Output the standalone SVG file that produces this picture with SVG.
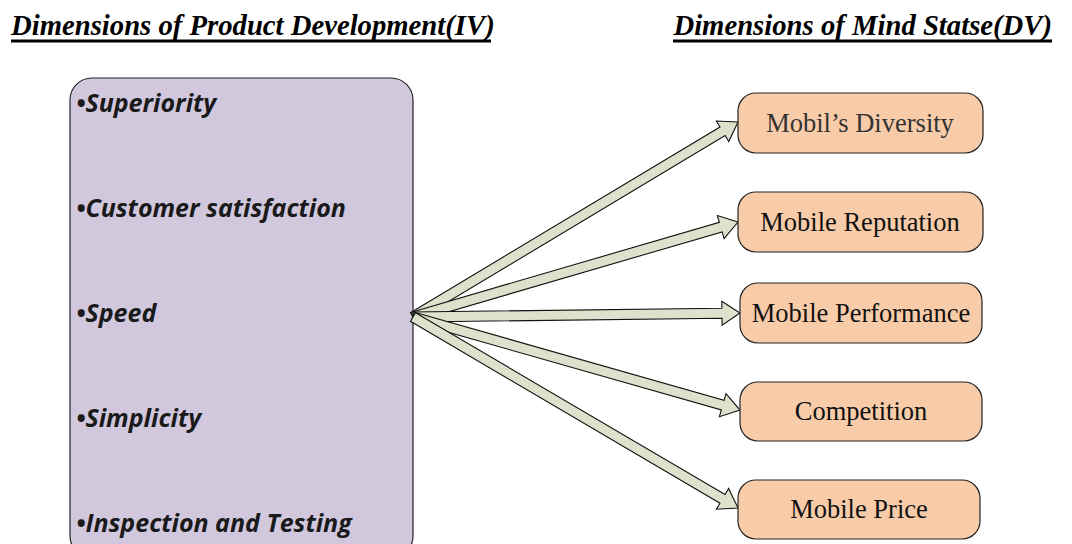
<svg xmlns="http://www.w3.org/2000/svg" width="1072" height="544" viewBox="0 0 1072 544">
<style>
.title{font-family:"Liberation Serif","Times New Roman",serif;font-weight:bold;font-style:italic;font-size:28.7px;fill:#000}
.ul{stroke:#000;stroke-width:3}
.item{font-family:"Open Sans",Lato,sans-serif;font-weight:bold;font-style:italic;font-size:25px;fill:#1a1a1a}
.lbl{font-family:"Liberation Serif","Times New Roman",serif;font-size:26.5px;fill:#111;text-anchor:middle}
.src{fill:#d1c8de;stroke:#222;stroke-width:1.2}
.dst{fill:#f9cca9;stroke:#222;stroke-width:1.2}
.arr{fill:#dde2cc;stroke:#111;stroke-width:1.1;stroke-linejoin:miter}
</style>
<rect width="1072" height="544" fill="#fff"/>
<text class="title" x="11" y="35">Dimensions of Product Development(IV)</text>
<line class="ul" x1="11" y1="41" x2="491" y2="41"/>
<text class="title" x="1052" y="35" text-anchor="end">Dimensions of Mind Statse(DV)</text>
<line class="ul" x1="673" y1="41" x2="1052" y2="41"/>
<g id="iv">
<rect class="src" x="70" y="78" width="343" height="480" rx="22"/>
<text class="item" x="76" y="112">•Superiority</text>
<text class="item" x="76" y="217">•Customer satisfaction</text>
<text class="item" x="76" y="322">•Speed</text>
<text class="item" x="76" y="427">•Simplicity</text>
<text class="item" x="76" y="532">•Inspection and Testing</text>
</g>
<g id="connectors">
<path class="arr" transform="translate(413,317) rotate(-30.96)" d="M0,-5 H361 V-12 L379,0 L361,12 V5 H0 Z"/>
<path class="arr" transform="translate(413,317) rotate(-16.29)" d="M0,-5 H320.6 V-12 L338.6,0 L320.6,12 V5 H0 Z"/>
<path class="arr" transform="translate(413,317) rotate(-0.7)" d="M0,-5 H309 V-12 L327,0 L309,12 V5 H0 Z"/>
<path class="arr" transform="translate(413,317) rotate(15.88)" d="M0,-5 H322 V-12 L340,0 L322,12 V5 H0 Z"/>
<path class="arr" transform="translate(413,317) rotate(30.44)" d="M0,-5 H359 V-12 L377,0 L359,12 V5 H0 Z"/>
</g>
<g id="dv1"><rect class="dst" x="738" y="93" width="245" height="60" rx="18"/><text class="lbl" x="860" y="132" style="fill:#333">Mobil’s Diversity</text></g>
<g id="dv2"><rect class="dst" x="738" y="192" width="245" height="60" rx="18"/><text class="lbl" x="860" y="231">Mobile Reputation</text></g>
<g id="dv3"><rect class="dst" x="740" y="283" width="242" height="60" rx="18"/><text class="lbl" x="861" y="322">Mobile Performance</text></g>
<g id="dv4"><rect class="dst" x="740" y="382" width="242" height="59" rx="18"/><text class="lbl" x="861" y="420">Competition</text></g>
<g id="dv5"><rect class="dst" x="738" y="480" width="242" height="59" rx="18"/><text class="lbl" x="859" y="518">Mobile Price</text></g>
</svg>
